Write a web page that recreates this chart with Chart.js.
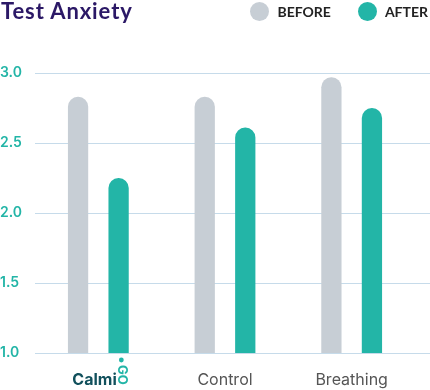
<!DOCTYPE html>
<html>
<head>
<meta charset="utf-8">
<script src="https://cdn.jsdelivr.net/npm/chart.js@4.4.0/dist/chart.umd.min.js"></script>
<style>
    body { margin: 0; background: #fff; }
    #wrap { position: relative; width: 430px; height: 390px; }
    canvas { display: block; }
    #title { position: absolute; left: 1px; top: -2px; font: bold 22px Lato; letter-spacing: 0.9px; line-height: 26px; color: #2b1866; }
    #legend { position: absolute; right: 2px; top: 2px; display: flex; }
    .item { display: flex; align-items: center; margin-left: 27px; font: bold 14px Lato; color: #222; height: 19px; }
    .dot { width: 19px; height: 19px; border-radius: 50%; margin-right: 8px; }
</style>
</head>
<body>
<div id="wrap">
    <canvas id="anxietyChart" width="430" height="390"></canvas>
    <div id="title">Test Anxiety</div>
    <div id="legend"></div>
</div>
<script>
const categories = ['CalmiGO', 'Control', 'Breathing']
const seriesNames = ['BEFORE', 'AFTER']
const beforeValues = [2.83, 2.83, 2.97]
const afterValues = [2.25, 2.61, 2.75]
const yTickValues = [1.0, 1.5, 2.0, 2.5, 3.0]

const gray = '#c7ced5'
const teal = '#23b5a7'
const gridColor = '#c6dbea'

// legend in html, built from the series
const legendEl = document.getElementById('legend')
seriesNames.forEach(function (name, i) {
    const item = document.createElement('div')
    item.className = 'item'
    item.innerHTML = '<span class="dot" style="background:' + [gray, teal][i] + '"></span>' + name
    legendEl.appendChild(item)
})

// y grid runs on to the right edge of the picture
const gridToEdge = {
    id: 'gridToEdge',
    beforeDatasetsDraw(chart) {
        const ctx = chart.ctx
        const y = chart.scales.y
        ctx.save()
        ctx.strokeStyle = gridColor
        ctx.lineWidth = 1
        y.ticks.forEach(function (t) {
            const py = Math.round(y.getPixelForValue(t.value)) + 0.5
            ctx.beginPath()
            ctx.moveTo(chart.chartArea.right, py)
            ctx.lineTo(chart.width, py)
            ctx.stroke()
        })
        ctx.restore()
    }
}

// the "GO" part of the CalmiGO logo
const logoGo = {
    id: 'logoGo',
    afterDraw(chart) {
        const ctx = chart.ctx
        const px = chart.scales.x.getPixelForTick(0)
        ctx.save()
        ctx.fillStyle = teal
        ctx.beginPath()
        ctx.arc(px + 23, 360, 2.4, 0, Math.PI * 2)
        ctx.fill()
        ctx.translate(px + 24, 375)
        ctx.rotate(Math.PI / 2)
        ctx.font = 'bold 13px Inter'
        ctx.textAlign = 'center'
        ctx.textBaseline = 'middle'
        ctx.fillText('GO', 0, 0)
        ctx.restore()
    }
}

const anxietyData = {
    labels: categories,
    datasets: [{
        label: seriesNames[0],
        backgroundColor: gray,
        data: beforeValues,
        borderRadius: 10,
        categoryPercentage: 0.64,
        barPercentage: 0.5
    }, {
        label: seriesNames[1],
        backgroundColor: teal,
        data: afterValues,
        borderRadius: 10,
        categoryPercentage: 0.64,
        barPercentage: 0.5
    }]
}

const anxietyConfig = {
    type: 'bar',
    data: anxietyData,
    options: {
        responsive: false,
        animation: false,
        layout: {
            padding: { top: 73, left: 0, right: 15, bottom: 0 }
        },
        plugins: {
            legend: { display: false },
            title: { display: false },
            tooltip: { enabled: false }
        },
        scales: {
            x: {
                grid: { display: false },
                border: { display: false },
                afterFit: function (scale) { scale.height = 37 },
                ticks: {
                    padding: 10,
                    color: function (c) { return c.index === 0 ? '#11505c' : '#555' },
                    font: function (c) {
                        return c.index === 0
                            ? { family: 'Inter', size: 16, weight: 'bold' }
                            : { family: 'Inter', size: 16, weight: 'normal' }
                    },
                    callback: function (v, i) { return i === 0 ? 'Calmi  ' : this.getLabelForValue(v) }
                }
            },
            y: {
                min: yTickValues[0],
                max: yTickValues[yTickValues.length - 1],
                afterFit: function (scale) { scale.width = 35 },
                afterBuildTicks: function (scale) {
                    scale.ticks = yTickValues.map(function (v) { return { value: v } })
                },
                grid: { color: gridColor, drawTicks: false },
                border: { display: false },
                ticks: {
                    crossAlign: 'far',
                    color: teal,
                    font: { family: 'Inter', size: 14, weight: '600' },
                    callback: function (v) { return v.toFixed(1) }
                }
            }
        }
    },
    plugins: [gridToEdge, logoGo]
}

const anxietyChart = new Chart(
    document.getElementById('anxietyChart'),
    anxietyConfig
)
</script>
</body>
</html>
